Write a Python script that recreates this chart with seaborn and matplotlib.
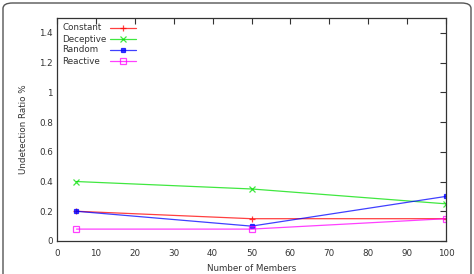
import matplotlib
matplotlib.use("Agg")
import matplotlib.pyplot as plt
import seaborn as sns
import pandas as pd
from matplotlib.patches import FancyBboxPatch

members = [5, 50, 100]
constant = [0.20, 0.15, 0.15]
deceptive = [0.40, 0.35, 0.25]
random_ = [0.20, 0.10, 0.30]
reactive = [0.08, 0.08, 0.15]
series_names = ["Constant", "Deceptive", "Random", "Reactive"]
x_ticks = [0, 10, 20, 30, 40, 50, 60, 70, 80, 90, 100]
y_ticks = [0, 0.2, 0.4, 0.6, 0.8, 1.0, 1.2, 1.4]
y_tick_labels = ["0", "0.2", "0.4", "0.6", "0.8", "1", "1.2", "1.4"]

sns.set_theme(style="white")
plt.rcParams['font.family'] = ['DejaVu Sans']

rows = []
for name, vals in zip(series_names, [constant, deceptive, random_, reactive]):
    for m, v in zip(members, vals):
        rows.append({"Members": m, "Ratio": v, "Series": name})
df = pd.DataFrame(rows)

W, H = 474, 274
fig = plt.figure(figsize=(W/100, H/100), dpi=100)
ax = fig.add_axes([57/W, 1-241/H, (446-57)/W, (241-18)/H])

palette = {"Constant": "#ff0000", "Deceptive": "#00e000", "Random": "#0000ff", "Reactive": "#ff00ff"}
markers = {"Constant": "+", "Deceptive": "x", "Random": "s", "Reactive": "s"}
msizes = {"Constant": 5, "Deceptive": 4.5, "Random": 3.5, "Reactive": 5}
TXT = "#333333"
FS = 6.3

for name in series_names:
    d = df[df.Series == name]
    mfc = "none" if name == "Reactive" else palette[name]
    sns.lineplot(data=d, x="Members", y="Ratio", ax=ax, color=palette[name],
                 marker=markers[name], markersize=msizes[name], markerfacecolor=mfc,
                 markeredgecolor=palette[name], markeredgewidth=0.9,
                 linewidth=0.9, alpha=0.75, legend=False)

ax.set_xlim(0, 100)
ax.set_ylim(0, 1.5)
ax.set_xticks(x_ticks)
ax.set_yticks(y_ticks)
ax.set_yticklabels(y_tick_labels)
ax.tick_params(direction="in", length=4, width=0.8, labelsize=FS, colors=TXT,
               top=True, right=True, labeltop=False, labelright=False, pad=3)
ax.tick_params(axis="x", pad=6)
for s in ax.spines.values():
    s.set_color(TXT)
    s.set_linewidth(0.9)
ax.set_xlabel("Number of Members", fontsize=FS, color=TXT, labelpad=4)
ax.set_ylabel("Undetection Ratio %", fontsize=FS, color=TXT, labelpad=8)

# gnuplot-style key: text left-aligned, sample line to the right
row_y = [28, 39, 50, 61]
for name, ry in zip(series_names, row_y):
    yf = 1 - ry / H
    fig.text(62/W, yf, name, fontsize=FS, color=TXT, ha="left", va="center")
    mfc = "none" if name == "Reactive" else palette[name]
    fig.add_artist(plt.Line2D([110/W, 136/W], [yf, yf], transform=fig.transFigure,
                              color=palette[name], linewidth=0.9, alpha=0.75))
    fig.add_artist(plt.Line2D([123/W], [yf], transform=fig.transFigure,
                              color=palette[name], marker=markers[name],
                              markersize=msizes[name], markerfacecolor=mfc,
                              markeredgecolor=palette[name], markeredgewidth=0.9,
                              alpha=0.75, linestyle="none"))

border = FancyBboxPatch((3/W, -0.05), 468/W, 1.0 + 0.05 - 3/H,
                        boxstyle="round,pad=0,rounding_size=0.02",
                        transform=fig.transFigure, fill=False,
                        edgecolor="#555555", linewidth=1.0, clip_on=False)
fig.patches.append(border)

fig.savefig("out.png", dpi=100)
